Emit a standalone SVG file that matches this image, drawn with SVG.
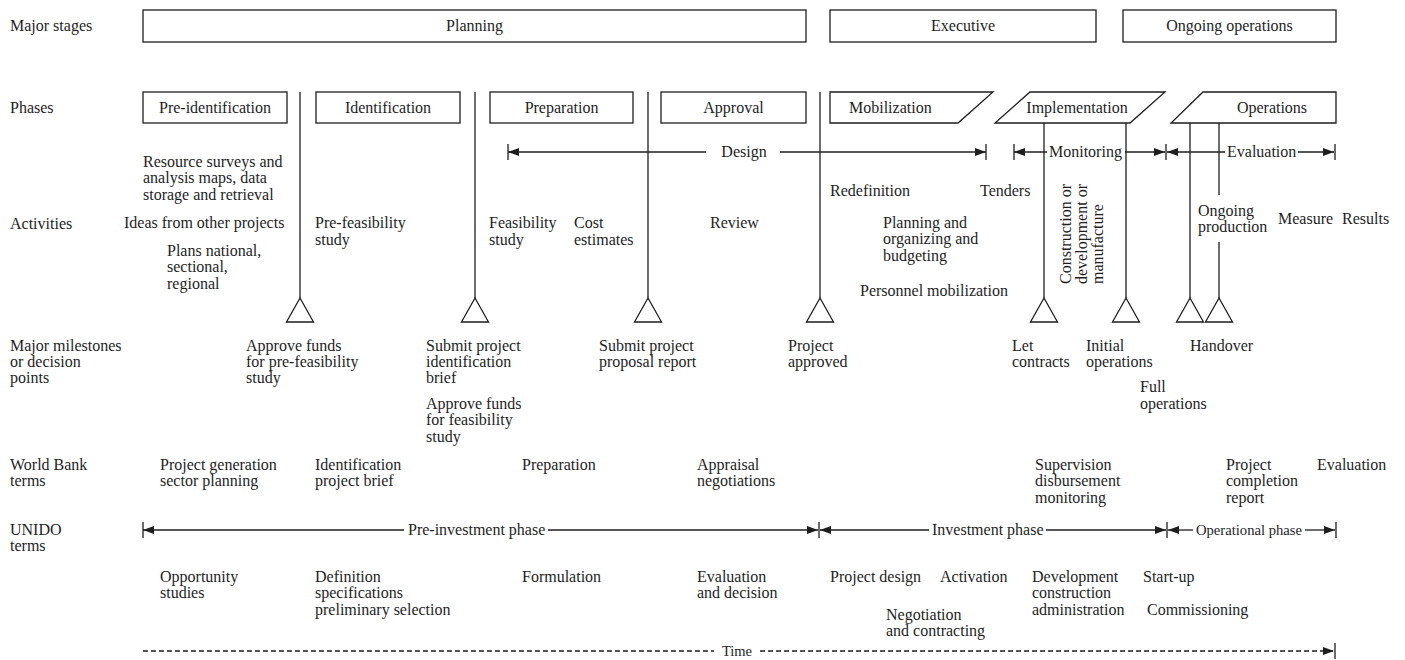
<svg xmlns="http://www.w3.org/2000/svg" width="1405" height="660" viewBox="0 0 1405 660">
  <style>
    text { font-family: "Liberation Serif", "Times New Roman", serif; font-size: 16px; fill: #1e1e1e; }
    .c { text-anchor: middle; }
    .box { fill: #fff; stroke: #1e1e1e; stroke-width: 1.3; }
    .ln { stroke: #1e1e1e; stroke-width: 1.3; fill: none; }
    .dash { stroke: #1e1e1e; stroke-width: 1.3; fill: none; stroke-dasharray: 5 3; }
    .tri { fill: #fff; stroke: #1e1e1e; stroke-width: 1.3; }
    .small { font-size: 15px; }
  </style>
  <defs>
    <marker id="ah" viewBox="0 0 11 8" refX="11" refY="4" markerWidth="11" markerHeight="8" markerUnits="userSpaceOnUse" orient="auto-start-reverse">
      <path d="M0,0 L11,4 L0,8 z" fill="#1e1e1e"/>
    </marker>
  </defs>
  <rect width="1405" height="660" fill="#fff"/>

  <!-- row headings -->
  <g id="row-labels">
    <text x="10" y="31">Major stages</text>
    <text x="10" y="113">Phases</text>
    <text x="10" y="229">Activities</text>
    <text x="10" y="351">Major milestones</text>
    <text x="10" y="367">or decision</text>
    <text x="10" y="383">points</text>
    <text x="10" y="470">World Bank</text>
    <text x="10" y="486">terms</text>
    <text x="10" y="535">UNIDO</text>
    <text x="10" y="551">terms</text>
  </g>

  <!-- major stages -->
  <g id="stage-planning"><rect class="box" x="143" y="10" width="663" height="32"/><text class="c" x="474.5" y="31">Planning</text></g>
  <g id="stage-executive"><rect class="box" x="830" y="10" width="266" height="32"/><text class="c" x="963" y="31">Executive</text></g>
  <g id="stage-ongoing"><rect class="box" x="1123" y="10" width="213" height="32"/><text class="c" x="1229.5" y="31">Ongoing operations</text></g>

  <!-- phases -->
  <g id="phase-preidentification"><rect class="box" x="143" y="92" width="144" height="31"/><text class="c" x="215" y="113">Pre-identification</text></g>
  <g id="phase-identification"><rect class="box" x="316" y="92" width="144" height="31"/><text class="c" x="388" y="113">Identification</text></g>
  <g id="phase-preparation"><rect class="box" x="490" y="92" width="143" height="31"/><text class="c" x="561.5" y="113">Preparation</text></g>
  <g id="phase-approval"><rect class="box" x="661" y="92" width="145" height="31"/><text class="c" x="733.5" y="113">Approval</text></g>
  <g id="phase-mobilization"><path class="box" d="M830,92 H993 L958,123 H830 Z"/><text x="849" y="113">Mobilization</text></g>
  <g id="phase-implementation"><path class="box" d="M1030,92 H1165 L1130,123 H995 Z"/><text class="c" x="1077" y="113">Implementation</text></g>
  <g id="phase-operations"><path class="box" d="M1203,92 H1336 V123 H1171 Z"/><text class="c" x="1272" y="113">Operations</text></g>

  <!-- connectors: phase boundaries, spans and time axis -->
  <g id="connectors">
    <line class="ln" x1="300" y1="92" x2="300" y2="298"/>
    <line class="ln" x1="475" y1="92" x2="475" y2="298"/>
    <line class="ln" x1="648" y1="92" x2="648" y2="298"/>
    <line class="ln" x1="820" y1="92" x2="820" y2="298"/>
    <line class="ln" x1="1044" y1="123" x2="1044" y2="298"/>
    <line class="ln" x1="1126" y1="123" x2="1126" y2="298"/>
    <line class="ln" x1="1190" y1="123" x2="1190" y2="298"/>
    <line class="ln" x1="1219" y1="123" x2="1219" y2="195"/>
    <line class="ln" x1="1219" y1="242" x2="1219" y2="298"/>

    <!-- Design span -->
    <line class="ln" x1="508" y1="144" x2="508" y2="160"/>
    <line class="ln" x1="508" y1="152" x2="706" y2="152" marker-start="url(#ah)"/>
    <line class="ln" x1="780" y1="152" x2="986" y2="152" marker-end="url(#ah)"/>
    <line class="ln" x1="986" y1="144" x2="986" y2="160"/>
    <text class="c" x="744" y="157">Design</text>

    <!-- Monitoring and Evaluation spans share one divider -->
    <line class="ln" x1="1014" y1="144" x2="1014" y2="160"/>
    <line class="ln" x1="1014" y1="152" x2="1047" y2="152" marker-start="url(#ah)"/>
    <line class="ln" x1="1125" y1="152" x2="1165" y2="152" marker-end="url(#ah)"/>
    <line class="ln" x1="1166" y1="144" x2="1166" y2="160"/>
    <text x="1049" y="157">Monitoring</text>
    <line class="ln" x1="1167" y1="152" x2="1225" y2="152" marker-start="url(#ah)"/>
    <line class="ln" x1="1298" y1="152" x2="1334" y2="152" marker-end="url(#ah)"/>
    <line class="ln" x1="1335" y1="144" x2="1335" y2="160"/>
    <text x="1227" y="157">Evaluation</text>

    <!-- UNIDO phases -->
    <line class="ln" x1="143" y1="522" x2="143" y2="538"/>
    <line class="ln" x1="143" y1="530" x2="404" y2="530" marker-start="url(#ah)"/>
    <line class="ln" x1="548" y1="530" x2="818" y2="530" marker-end="url(#ah)"/>
    <line class="ln" x1="819" y1="522" x2="819" y2="538"/>
    <line class="ln" x1="820" y1="530" x2="929" y2="530" marker-start="url(#ah)"/>
    <line class="ln" x1="1046" y1="530" x2="1166" y2="530" marker-end="url(#ah)"/>
    <line class="ln" x1="1167" y1="522" x2="1167" y2="538"/>
    <line class="ln" x1="1168" y1="530" x2="1193" y2="530" marker-start="url(#ah)"/>
    <line class="ln" x1="1305" y1="530" x2="1335" y2="530" marker-end="url(#ah)"/>
    <line class="ln" x1="1336" y1="522" x2="1336" y2="538"/>
    <text x="408" y="535">Pre-investment phase</text>
    <text x="932" y="535">Investment phase</text>
    <text class="small" x="1196" y="535" textLength="106" lengthAdjust="spacingAndGlyphs">Operational phase</text>

    <!-- time axis -->
    <line class="dash" x1="143" y1="651" x2="714" y2="651"/>
    <line class="dash" x1="760" y1="651" x2="1334" y2="651" marker-end="url(#ah)"/>
    <line class="ln" x1="1335" y1="643" x2="1335" y2="659"/>
    <text class="c" x="737" y="656" style="font-size:14.5px">Time</text>
  </g>

  <!-- milestones -->
  <g id="ms-prefeasibility-funds">
    <path class="tri" d="M300,298 L313.5,322 L286.5,322 Z"/>
    <text x="246" y="351">Approve funds</text>
    <text x="246" y="367">for pre-feasibility</text>
    <text x="246" y="383">study</text>
  </g>
  <g id="ms-identification-brief">
    <path class="tri" d="M475,298 L488.5,322 L461.5,322 Z"/>
    <text x="426" y="351">Submit project</text>
    <text x="426" y="367">identification</text>
    <text x="426" y="383">brief</text>
    <text x="426" y="409">Approve funds</text>
    <text x="426" y="425">for feasibility</text>
    <text x="426" y="442">study</text>
  </g>
  <g id="ms-proposal-report">
    <path class="tri" d="M648,298 L661.5,322 L634.5,322 Z"/>
    <text x="599" y="351">Submit project</text>
    <text x="599" y="367">proposal report</text>
  </g>
  <g id="ms-approved">
    <path class="tri" d="M820,298 L833.5,322 L806.5,322 Z"/>
    <text x="788" y="351">Project</text>
    <text x="788" y="367">approved</text>
  </g>
  <g id="ms-contracts">
    <path class="tri" d="M1044,298 L1057.5,322 L1030.5,322 Z"/>
    <text x="1012" y="351">Let</text>
    <text x="1012" y="367">contracts</text>
  </g>
  <g id="ms-initial-ops">
    <path class="tri" d="M1126,298 L1139.5,322 L1112.5,322 Z"/>
    <text x="1086" y="351">Initial</text>
    <text x="1086" y="367">operations</text>
    <text x="1140" y="392">Full</text>
    <text x="1140" y="409">operations</text>
  </g>
  <g id="ms-handover">
    <path class="tri" d="M1190,298 L1203.5,322 L1176.5,322 Z"/>
    <path class="tri" d="M1219,298 L1232.5,322 L1205.5,322 Z"/>
    <text x="1190" y="351">Handover</text>
  </g>

  <!-- activities -->
  <g id="activities">
    <text x="143" y="167">Resource surveys and</text>
    <text x="143" y="183">analysis maps, data</text>
    <text x="143" y="200">storage and retrieval</text>
    <text x="124" y="228">Ideas from other projects</text>
    <text x="167" y="256">Plans national,</text>
    <text x="167" y="272">sectional,</text>
    <text x="167" y="289">regional</text>
    <text x="315" y="228">Pre-feasibility</text>
    <text x="315" y="245">study</text>
    <text x="489" y="228">Feasibility</text>
    <text x="489" y="245">study</text>
    <text x="574" y="228">Cost</text>
    <text x="574" y="245">estimates</text>
    <text x="710" y="228">Review</text>
    <text x="830" y="196">Redefinition</text>
    <text x="980" y="196">Tenders</text>
    <text x="883" y="228">Planning and</text>
    <text x="883" y="244">organizing and</text>
    <text x="883" y="261">budgeting</text>
    <text x="860" y="296">Personnel mobilization</text>
    <g class="small" transform="rotate(-90)">
      <text x="-284" y="1071">Construction or</text>
      <text x="-284" y="1087">development or</text>
      <text x="-284" y="1103">manufacture</text>
    </g>
    <text x="1198" y="216">Ongoing</text>
    <text x="1198" y="232">production</text>
    <text x="1278" y="224">Measure</text>
    <text x="1342" y="224">Results</text>
  </g>

  <!-- World Bank terms -->
  <g id="world-bank-terms">
    <text x="160" y="470">Project generation</text>
    <text x="160" y="486">sector planning</text>
    <text x="315" y="470">Identification</text>
    <text x="315" y="486">project brief</text>
    <text x="522" y="470">Preparation</text>
    <text x="697" y="470">Appraisal</text>
    <text x="697" y="486">negotiations</text>
    <text x="1035" y="470">Supervision</text>
    <text x="1035" y="486">disbursement</text>
    <text x="1035" y="503">monitoring</text>
    <text x="1226" y="470">Project</text>
    <text x="1226" y="486">completion</text>
    <text x="1226" y="503">report</text>
    <text x="1317" y="470">Evaluation</text>
  </g>

  <!-- UNIDO terms -->
  <g id="unido-terms">
    <text x="160" y="582">Opportunity</text>
    <text x="160" y="598">studies</text>
    <text x="315" y="582">Definition</text>
    <text x="315" y="598">specifications</text>
    <text x="315" y="615">preliminary selection</text>
    <text x="522" y="582">Formulation</text>
    <text x="697" y="582">Evaluation</text>
    <text x="697" y="598">and decision</text>
    <text x="830" y="582">Project design</text>
    <text x="940" y="582">Activation</text>
    <text x="886" y="620">Negotiation</text>
    <text x="886" y="636">and contracting</text>
    <text x="1032" y="582">Development</text>
    <text x="1032" y="598">construction</text>
    <text x="1032" y="615">administration</text>
    <text x="1143" y="582">Start-up</text>
    <text x="1147" y="615">Commissioning</text>
  </g>
</svg>
